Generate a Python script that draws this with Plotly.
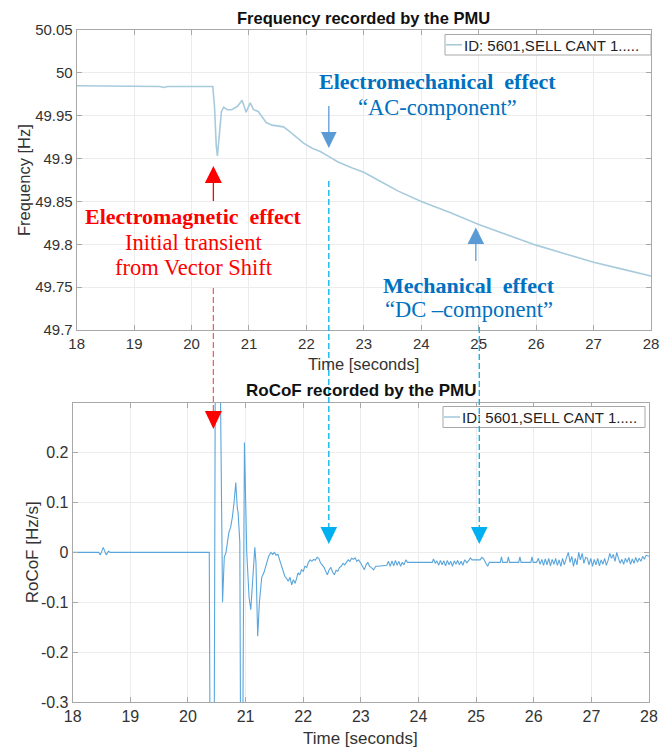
import plotly.graph_objects as go

# ---------------------------------------------------------------------------
# Data
# ---------------------------------------------------------------------------
freq_t = [18.0, 19.45, 19.52, 19.58, 20.37, 20.40, 20.43, 20.45, 20.48, 20.52,
          20.56, 20.62, 20.70, 20.80, 20.88, 20.95, 21.02, 21.08, 21.16, 21.25,
          21.30, 21.40, 21.50, 21.60, 21.70, 21.80, 21.95, 22.10, 22.25, 22.40,
          22.55, 22.80, 23.00, 23.30, 23.60, 24.00, 24.50, 25.00, 25.50, 26.00,
          26.50, 27.00, 27.50, 28.00]
freq_hz = [49.985, 49.984, 49.983, 49.984, 49.984, 49.960, 49.915, 49.903, 49.925, 49.955,
           49.960, 49.957, 49.957, 49.961, 49.968, 49.954, 49.965, 49.957, 49.955, 49.946,
           49.942, 49.939, 49.938, 49.937, 49.932, 49.926, 49.918, 49.912, 49.908, 49.902,
           49.896, 49.889, 49.884, 49.873, 49.862, 49.850, 49.837, 49.823, 49.811, 49.799,
           49.789, 49.779, 49.771, 49.763]

rocof_t = [18.0, 18.45, 18.48, 18.53, 18.58, 18.62, 18.65, 20.37, 20.39, 20.45,
           20.48, 20.54, 20.60, 20.63, 20.66, 20.68, 20.71, 20.74, 20.77, 20.80,
           20.83, 20.855, 20.87, 20.90, 20.92, 20.94, 20.98, 21.02, 21.06, 21.09,
           21.12, 21.16, 21.18, 21.21, 21.24, 21.28, 21.32, 21.37, 21.40, 21.44,
           21.47, 21.50, 21.53, 21.56, 21.60, 21.64, 21.68, 21.71, 21.74, 21.77,
           21.80, 21.83, 21.86, 21.89, 21.91, 21.94, 21.97, 22.00, 22.03, 22.06,
           22.09, 22.12, 22.15, 22.18, 22.21, 22.24, 22.27, 22.30, 22.33, 22.36,
           22.39, 22.42, 22.45, 22.48, 22.51, 22.54, 22.57, 22.60, 22.63, 22.66,
           22.69, 22.72, 22.75, 22.78, 22.81, 22.84, 22.87, 22.90, 22.93, 22.96,
           23.00, 23.03, 23.06, 23.09, 23.12, 23.15, 23.18, 23.22, 23.26, 23.30,
           23.45, 23.48, 23.51, 23.54, 23.57, 23.60, 23.63, 23.66, 23.69, 23.72,
           23.75, 23.78, 23.81, 24.03, 24.24, 24.26, 24.29, 24.32, 24.35, 24.38,
           24.41, 24.44, 24.47, 24.50, 24.53, 24.56, 24.59, 24.62, 24.65, 24.68,
           24.71, 24.74, 24.77, 24.80, 24.84, 24.88, 24.90, 24.93, 25.07, 25.10,
           25.13, 25.17, 25.20, 25.23, 25.42, 25.44, 25.46, 25.54, 25.56, 25.58,
           25.74, 25.76, 25.78, 25.95, 25.97, 25.99, 26.05, 26.08, 26.11, 26.14,
           26.17, 26.20, 26.23, 26.26, 26.29, 26.32, 26.35, 26.38, 26.41, 26.44,
           26.47, 26.50, 26.53, 26.57, 26.60, 26.63, 26.66, 26.69, 26.72, 26.75,
           26.78, 26.81, 26.84, 26.87, 26.90, 26.93, 26.96, 26.99, 27.02, 27.05,
           27.08, 27.11, 27.14, 27.17, 27.20, 27.23, 27.26, 27.29, 27.32, 27.35,
           27.38, 27.41, 27.44, 27.47, 27.50, 27.53, 27.56, 27.59, 27.62, 27.65,
           27.68, 27.71, 27.74, 27.77, 27.80, 27.83, 27.86, 27.89, 27.92, 27.95,
           28.00]
rocof_hz_s = [0.0, 0.0, -0.005, 0.010, -0.005, 0.002, 0.0, 0.0, -0.6, -0.6,
              0.6, 0.6, -0.100, -0.010, 0.0, 0.020, 0.040, 0.050, 0.070, 0.100,
              0.140, 0.090, 0.080, 0.020, -0.6, -0.6, 0.220, 0.0, -0.090, -0.115,
              -0.050, 0.010, -0.020, -0.168, -0.100, -0.050, -0.040, -0.020, -0.008, 0.0,
              -0.004, 0.0, -0.006, -0.004, -0.020, -0.035, -0.048, -0.052, -0.058, -0.050,
              -0.065, -0.055, -0.062, -0.050, -0.041, -0.045, -0.035, -0.038, -0.028, -0.030,
              -0.020, -0.015, -0.018, -0.014, -0.016, -0.010, -0.012, -0.021, -0.025, -0.030,
              -0.038, -0.045, -0.035, -0.030, -0.040, -0.045, -0.036, -0.038, -0.030, -0.028,
              -0.022, -0.025, -0.020, -0.015, -0.018, -0.012, -0.014, -0.011, -0.018, -0.015,
              -0.022, -0.028, -0.035, -0.025, -0.020, -0.028, -0.030, -0.035, -0.028, -0.028,
              -0.026, -0.018, -0.028, -0.017, -0.027, -0.016, -0.026, -0.018, -0.028, -0.020,
              -0.025, -0.015, -0.020, -0.020, -0.020, -0.013, -0.022, -0.017, -0.026, -0.016,
              -0.025, -0.017, -0.027, -0.016, -0.025, -0.018, -0.028, -0.017, -0.024, -0.016,
              -0.025, -0.018, -0.026, -0.015, -0.021, -0.015, -0.011, -0.015, -0.015, -0.010,
              -0.013, -0.022, -0.028, -0.020, -0.020, -0.009, -0.020, -0.020, -0.009, -0.020,
              -0.020, -0.009, -0.020, -0.020, -0.009, -0.020, -0.020, -0.012, -0.024, -0.014,
              -0.026, -0.013, -0.025, -0.012, -0.027, -0.014, -0.024, -0.012, -0.026, -0.015,
              -0.028, -0.012, -0.025, -0.010, 0.0, -0.020, -0.008, -0.028, -0.012, -0.025,
              0.0, -0.015, -0.002, -0.022, -0.010, -0.012, -0.025, -0.012, -0.028, -0.014,
              -0.025, -0.012, -0.027, -0.015, -0.024, -0.012, -0.026, -0.016, -0.002, -0.012,
              -0.004, -0.018, 0.0, -0.012, -0.022, -0.014, -0.024, -0.012, -0.020, -0.010,
              -0.024, -0.013, -0.022, -0.010, -0.020, -0.012, -0.018, -0.008, -0.014, -0.006,
              -0.008]

time_ticks = list(range(18, 29))
freq_ticks = [49.7, 49.75, 49.8, 49.85, 49.9, 49.95, 50.0, 50.05]
freq_tick_text = ["49.7", "49.75", "49.8", "49.85", "49.9", "49.95", "50", "50.05"]
rocof_ticks = [-0.3, -0.2, -0.1, 0.0, 0.1, 0.2]
rocof_tick_text = ["-0.3", "-0.2", "-0.1", "0", "0.1", "0.2"]

series_label = "ID: 5601,SELL CANT 1....."

# Instants highlighted by the arrows (seconds)
t_electromagnetic = 20.38
t_electromech = 22.39
t_mechanical = 24.95
t_dc_marker = 25.01

# ---------------------------------------------------------------------------
# Page geometry (pixels)
# ---------------------------------------------------------------------------
W, H = 672, 747
TOP = dict(l=76.7, r=651.0, t=30.0, b=330.0)
BOT = dict(l=72.7, r=649.0, t=402.7, b=702.0)
SEC_PER_PX = 10.0 / (TOP["r"] - TOP["l"])


def px(x):
    return x / W


def py(y):
    return 1.0 - y / H


SANS = "Liberation Sans, Arial, sans-serif"
SERIF = "Liberation Serif, Times New Roman, serif"
AX_GREY = "#a8a8a8"
GRID = "#ececec"
TXT = "#333333"

RED = "#ff0000"
RED_DASH = "#ff5c5c"
BLUE_TXT = "#0070c0"
STEEL = "#5b9bd5"
CYAN = "#00b0f0"
FREQ_COLOR = "#a8cbdc"
ROCOF_COLOR = "#5aa6dc"

fig = go.Figure()
fig.add_trace(go.Scatter(x=freq_t, y=freq_hz, mode="lines", name=series_label,
                         line=dict(color=FREQ_COLOR, width=1.6),
                         xaxis="x", yaxis="y", showlegend=False))
fig.add_trace(go.Scatter(x=rocof_t, y=rocof_hz_s, mode="lines", name=series_label,
                         line=dict(color=ROCOF_COLOR, width=1.1),
                         xaxis="x2", yaxis="y2", showlegend=False))

axis_common = dict(showgrid=True, gridcolor=GRID, gridwidth=1, zeroline=False,
                   showline=True, linecolor=AX_GREY, linewidth=1, mirror="ticks",
                   ticks="inside", ticklen=5, tickcolor=AX_GREY, automargin=False)

fig.update_layout(
    width=W, height=H, margin=dict(l=0, r=0, t=0, b=0, autoexpand=False),
    paper_bgcolor="white", plot_bgcolor="white",
    font=dict(family=SANS, color=TXT),
    xaxis=dict(domain=[px(TOP["l"]), px(TOP["r"])], anchor="y", range=[18, 28],
               tickvals=time_ticks, tickfont=dict(size=15, color=TXT), **axis_common),
    yaxis=dict(domain=[py(TOP["b"]), py(TOP["t"])], anchor="x", range=[49.7, 50.05],
               tickvals=freq_ticks, ticktext=freq_tick_text,
               tickfont=dict(size=15, color=TXT), **axis_common),
    xaxis2=dict(domain=[px(BOT["l"]), px(BOT["r"])], anchor="y2", range=[18, 28],
                tickvals=time_ticks, tickfont=dict(size=16, color=TXT), **axis_common),
    yaxis2=dict(domain=[py(BOT["b"]), py(BOT["t"])], anchor="x2", range=[-0.3, 0.3],
                tickvals=rocof_ticks, ticktext=rocof_tick_text,
                tickfont=dict(size=16, color=TXT), **axis_common),
)

shapes = []
annotations = []


def text(x, y, s, size, color=TXT, family=SANS, angle=0):
    annotations.append(dict(x=px(x), y=py(y), xref="paper", yref="paper", text=s,
                            showarrow=False, xanchor="center", yanchor="middle",
                            textangle=angle,
                            font=dict(family=family, size=size, color=color)))


# Titles and axis labels
text((TOP["l"] + TOP["r"]) / 2, 18, "<b>Frequency recorded by the PMU</b>", 16.5, "#111111")
text((BOT["l"] + BOT["r"]) / 2, 391, "<b>RoCoF recorded by the PMU</b>", 17, "#111111")
text(24, (TOP["t"] + TOP["b"]) / 2, "Frequency [Hz]", 16.5, angle=-90)
text(32, (BOT["t"] + BOT["b"]) / 2, "RoCoF [Hz/s]", 17, angle=-90)
text((TOP["l"] + TOP["r"]) / 2, 364, "Time [seconds]", 16.5)
text((BOT["l"] + BOT["r"]) / 2, 738, "Time [seconds]", 17)


# Legend boxes (one per panel)
def legend_box(x0, x1, y0, y1):
    shapes.append(dict(type="rect", xref="paper", yref="paper",
                       x0=px(x0), x1=px(x1), y0=py(y1), y1=py(y0),
                       fillcolor="white", line=dict(color=AX_GREY, width=1), layer="above"))
    ym = (y0 + y1) / 2
    shapes.append(dict(type="line", xref="paper", yref="paper",
                       x0=px(x0 + 1), x1=px(x0 + 17), y0=py(ym), y1=py(ym),
                       line=dict(color=FREQ_COLOR, width=1.6), layer="above"))
    annotations.append(dict(x=px(x0 + 17), y=py(ym + 0.5), xref="paper", yref="paper",
                            text=series_label, showarrow=False, xanchor="left",
                            yanchor="middle", font=dict(family=SANS, size=15, color="#222222")))


legend_box(445, 651, 34.5, 55)
legend_box(443, 645, 406.5, 427.5)


# Arrow pieces
def triangle(t, y_base, y_tip, half_px, color):
    hw = half_px * SEC_PER_PX
    path = (f"M {t - hw},{py(y_base)} L {t + hw},{py(y_base)} "
            f"L {t},{py(y_tip)} Z")
    shapes.append(dict(type="path", xref="x", yref="paper", path=path,
                       fillcolor=color, line=dict(width=0), layer="above"))


def vline(t, y0, y1, color, width=1.2, dash="solid"):
    shapes.append(dict(type="line", xref="x", yref="paper", x0=t, x1=t,
                       y0=py(y0), y1=py(y1), line=dict(color=color, width=width, dash=dash),
                       layer="above"))


# Electromagnetic effect (red)
vline(t_electromagnetic, 183, 201, RED, 1.3)
triangle(t_electromagnetic, 183, 166, 8.5, RED)
vline(t_electromagnetic, 288, 414, RED_DASH, 1.3, "6px,3px")
triangle(t_electromagnetic, 411, 429, 8.5, RED)

# Electromechanical effect (blue, AC component)
vline(t_electromech, 106, 133, STEEL, 1.3)
triangle(t_electromech, 132, 148, 7.8, STEEL)
vline(t_electromech, 181, 530, CYAN, 1.3, "6px,3px")
triangle(t_electromech, 527, 544, 8.3, CYAN)

# Mechanical effect (blue, DC component)
triangle(t_mechanical, 244, 227.5, 8.3, STEEL)
vline(t_mechanical, 243, 261, STEEL, 1.3)
vline(t_dc_marker, 327, 530, CYAN, 1.3, "6px,3px")
triangle(t_dc_marker, 527, 544, 8.3, CYAN)

# Effect descriptions
text(193, 216, "<b>Electromagnetic  effect</b>", 22, RED, SERIF)
text(194, 242, "Initial transient", 22.5, RED, SERIF)
text(194, 267, "from Vector Shift", 22.5, RED, SERIF)
text(437, 81, "<b>Electromechanical  effect</b>", 22, BLUE_TXT, SERIF)
text(437, 107, "\u201cAC-component\u201d", 22.5, BLUE_TXT, SERIF)
text(469, 285, "<b>Mechanical  effect</b>", 22, BLUE_TXT, SERIF)
text(469, 309, "\u201cDC \u2013component\u201d", 22.5, BLUE_TXT, SERIF)

fig.update_layout(shapes=shapes, annotations=annotations)
fig.write_html("out.html")
